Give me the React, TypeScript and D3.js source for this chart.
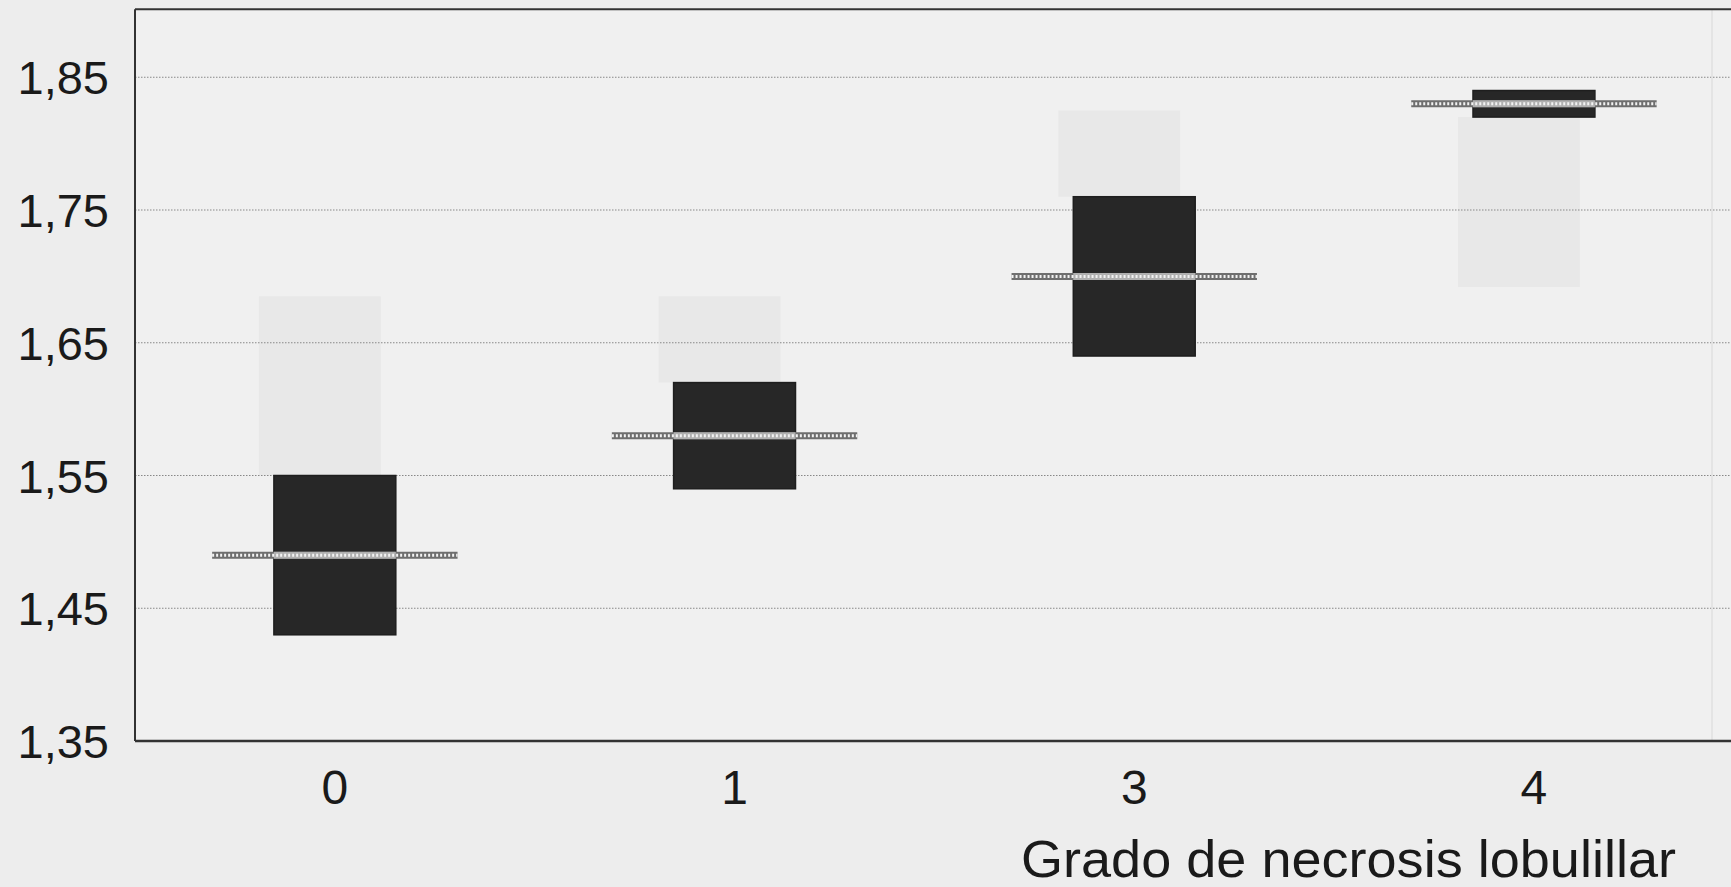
import React from "react";
import * as d3 from "d3";

const categories = ["0", "1", "3", "4"];
const boxTop = [1.55, 1.62, 1.76, 1.84];
const boxBottom = [1.43, 1.54, 1.64, 1.82];
const medians = [1.49, 1.58, 1.70, 1.83];
const ghostTop = [1.685, 1.685, 1.825, 1.82];
const ghostBottom = [1.55, 1.62, 1.76, 1.692];
const yTicks = [1.35, 1.45, 1.55, 1.65, 1.75, 1.85];
const xTitle = "Grado de necrosis lobulillar";

const W = 1731;
const H = 887;
const left = 135;
const right = 1733.8;
const top = 9.3;
const bottom = 741;

export default function App() {
  const x = d3.scaleBand<string>().domain(categories).range([left, right]).padding(0);
  const y = d3.scaleLinear().domain([1.35, 1.35 + (bottom - top) / 1327.5]).range([bottom, top]);
  const step = x.step();
  const boxW = step * 0.305;
  const medW = step * 0.614;
  const fmt = (v: number) => d3.format(".2f")(v).replace(".", ",");
  const font = "'Liberation Sans', Arial, Helvetica, sans-serif";

  return (
    <svg
      width={W}
      height={H}
      style={{ position: "absolute", left: 0, top: 0, background: "#eeeeee" }}
    >
      <rect x={0} y={0} width={W} height={H} fill="#ededed" />
      <rect x={left} y={top} width={W - left} height={bottom - top} fill="#f0f0f0" />
      {/* ghost bleed-through boxes */}
      {categories.map((c, i) => (
        <rect
          key={"g" + c}
          x={(x(c) as number) + step / 2 - boxW / 2 - 15}
          y={y(ghostTop[i])}
          width={boxW}
          height={y(ghostBottom[i]) - y(ghostTop[i])}
          fill="#e8e8e8"
        />
      ))}
      {/* gridlines */}
      {yTicks.slice(1).map((t) => (
        <line
          key={"gl" + t}
          x1={left}
          x2={W}
          y1={y(t)}
          y2={y(t)}
          stroke="#888888"
          strokeWidth={1}
          strokeDasharray="1.5,1.5"
        />
      ))}
      {/* faint right line */}
      <line x1={1712} x2={1712} y1={top} y2={bottom} stroke="#e0e0e0" strokeWidth={1.5} />
      {/* boxes */}
      {categories.map((c, i) => {
        const cx = (x(c) as number) + step / 2;
        return (
          <g key={"b" + c}>
            <rect
              x={cx - boxW / 2}
              y={y(boxTop[i])}
              width={boxW}
              height={y(boxBottom[i]) - y(boxTop[i])}
              fill="#272727"
              stroke="#1e1e1e"
              strokeWidth={1.5}
            />
            <line
              x1={cx - medW / 2}
              x2={cx + medW / 2}
              y1={y(medians[i])}
              y2={y(medians[i])}
              stroke="#6e6e6e"
              strokeWidth={7}
            />
            <line
              x1={cx - boxW / 2}
              x2={cx + boxW / 2}
              y1={y(medians[i])}
              y2={y(medians[i])}
              stroke="#b0b0b0"
              strokeWidth={7}
            />
            <line
              x1={cx - medW / 2}
              x2={cx + medW / 2}
              y1={y(medians[i])}
              y2={y(medians[i])}
              stroke="#f2f2f2"
              strokeWidth={3}
              strokeDasharray="2,2"
            />
          </g>
        );
      })}
      {/* frame */}
      <line x1={left} x2={W} y1={top} y2={top} stroke="#333333" strokeWidth={2} />
      <line x1={left} x2={left} y1={top} y2={bottom} stroke="#333333" strokeWidth={2} />
      <line x1={left} x2={W} y1={bottom} y2={bottom} stroke="#333333" strokeWidth={2.5} />
      {/* y tick labels */}
      {yTicks.map((t) => (
        <text
          key={"yt" + t}
          x={109}
          y={y(t) + 17}
          textAnchor="end"
          fontFamily={font}
          fontSize={47}
          fill="#1a1a1a"
        >
          {fmt(t)}
        </text>
      ))}
      {/* x tick labels */}
      {categories.map((c) => (
        <text
          key={"xt" + c}
          x={(x(c) as number) + step / 2}
          y={804}
          textAnchor="middle"
          fontFamily={font}
          fontSize={48}
          fill="#1a1a1a"
        >
          {c}
        </text>
      ))}
      <text
        x={1021}
        y={877}
        fontFamily={font}
        fontSize={52}
        fill="#1a1a1a"
        textLength={655}
        lengthAdjust="spacingAndGlyphs"
      >
        {xTitle}
      </text>
    </svg>
  );
}
